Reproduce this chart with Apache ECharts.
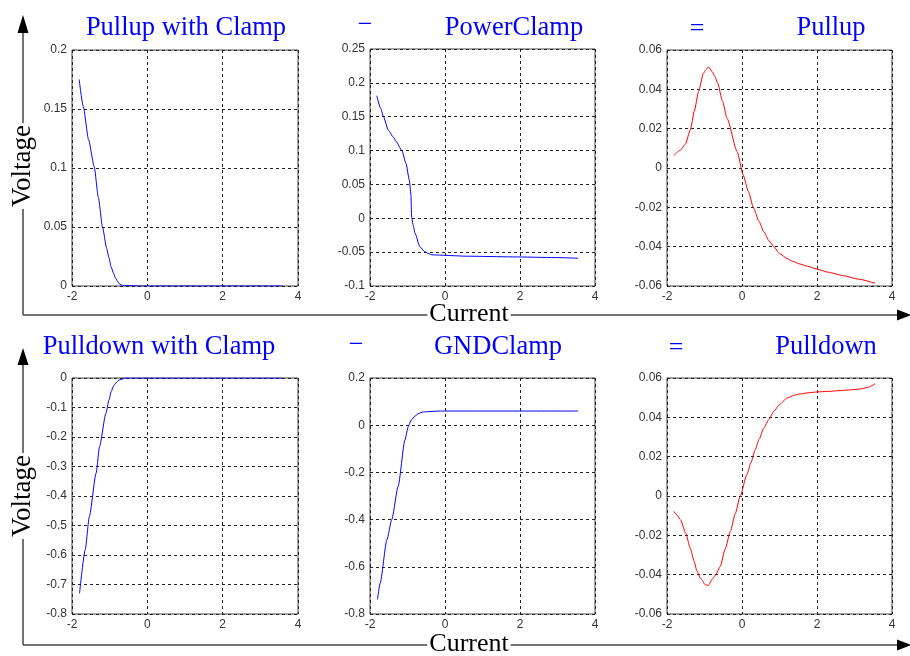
<!DOCTYPE html>
<html>
<head>
<meta charset="utf-8">
<script src="https://cdn.jsdelivr.net/npm/echarts@6/dist/echarts.min.js"></script>
<style>
  html, body { margin: 0; padding: 0; background: #fff; }
  #mycontainer { width: 910px; height: 656px; }
</style>
</head>
<body>
<div id="mycontainer"></div>
<script>
// curve data (x = current, y = voltage)
var pullupClampX = [-1.81, -1.7, -1.56, -1.41, -1.3, -1.19, -1.08, -1.02, -0.96, -0.9, -0.85, -0.8, -0.75, -0.7, -0.65, -0.2, 3.6];
var pullupClampY = [0.175, 0.152, 0.124, 0.101, 0.075, 0.05, 0.032, 0.024, 0.016, 0.011, 0.007, 0.0045, 0.002, 0.001, 0.0005, 0.0, 0.0];

var powerClampX = [-1.82, -1.72, -1.64, -1.51, -1.38, -1.3, -1.15, -1.04, -0.95, -0.91, -0.89, -0.85, -0.8, -0.67, -0.55, -0.44, -0.35, 0.6, 1.8, 2.95, 3.55];
var powerClampY = [0.181, 0.163, 0.15, 0.13, 0.12, 0.113, 0.1, 0.081, 0.056, 0.036, 0.002, -0.01, -0.022, -0.042, -0.049, -0.052, -0.054, -0.056, -0.057, -0.058, -0.059];

var pullupX = [-1.82, -1.65, -1.51, -1.38, -1.27, -1.16, -1.03, -0.96, -0.91, -0.86, -0.8, -0.72, -0.65, -0.52, -0.4, -0.13, 0.03, 0.17, 0.31, 0.45, 0.58, 0.72, 0.85, 1.0, 1.2, 1.35, 1.56, 1.75, 2.0, 2.3, 2.71, 3.1, 3.55];
var pullupY = [0.0063, 0.009, 0.0121, 0.0193, 0.029, 0.0388, 0.0481, 0.05, 0.0512, 0.0508, 0.049, 0.0465, 0.0431, 0.034, 0.0253, 0.0084, -0.0035, -0.012, -0.0205, -0.027, -0.0324, -0.037, -0.04, -0.0435, -0.046, -0.0475, -0.0489, -0.05, -0.0514, -0.053, -0.0548, -0.0565, -0.0586];

var pulldownClampX = [-1.8, -1.65, -1.54, -1.36, -1.27, -1.1, -1.02, -0.96, -0.9, -0.83, -0.75, -0.65, -0.6, 3.6];
var pulldownClampY = [-0.73, -0.583, -0.47, -0.323, -0.233, -0.12, -0.075, -0.046, -0.028, -0.016, -0.007, -0.003, 0, 0];

var gndClampX = [-1.8, -1.73, -1.55, -1.42, -1.25, -1.07, -0.98, -0.9, -0.8, -0.7, -0.58, -0.4, -0.13, 3.55];
var gndClampY = [-0.738, -0.67, -0.486, -0.4, -0.26, -0.063, -0.006, 0.022, 0.039, 0.05, 0.056, 0.058, 0.06, 0.06];

var pulldownX = [-1.82, -1.73, -1.64, -1.5, -1.38, -1.28, -1.2, -1.1, -0.98, -0.9, -0.78, -0.7, -0.58, -0.45, -0.31, -0.18, -0.05, 0.13, 0.24, 0.35, 0.46, 0.58, 0.72, 0.85, 1.0, 1.2, 1.38, 1.56, 1.78, 2.0, 2.3, 2.62, 2.9, 3.15, 3.35, 3.55];
var pulldownY = [-0.0078, -0.0098, -0.0121, -0.019, -0.0265, -0.033, -0.0383, -0.042, -0.0451, -0.0455, -0.042, -0.04, -0.0358, -0.027, -0.018, -0.009, -0.0002, 0.0109, 0.017, 0.0235, 0.029, 0.0346, 0.039, 0.0431, 0.0465, 0.0498, 0.0512, 0.0519, 0.0525, 0.0529, 0.0532, 0.0536, 0.054, 0.0544, 0.0552, 0.0571];

// y axis ranges [min, max, interval] per panel
var yRanges = [
    [0, 0.2, 0.05],
    [-0.1, 0.25, 0.05],
    [-0.06, 0.06, 0.02],
    [-0.8, 0, 0.1],
    [-0.8, 0.2, 0.2],
    [-0.06, 0.06, 0.02]
];
var xRange = [-2, 4, 2];

function zip(xs, ys) {
    return xs.map(function (x, i) { return [x, ys[i]]; });
}

var dom = document.getElementById('mycontainer');
var chart = echarts.init(dom, null, { renderer: 'canvas' });

var grids = [
    { left: 72, top: 50, width: 226, height: 236 },
    { left: 370, top: 49, width: 225, height: 237 },
    { left: 667, top: 50, width: 225, height: 236 },
    { left: 72, top: 378, width: 226, height: 236 },
    { left: 370, top: 378, width: 225, height: 236 },
    { left: 667, top: 378, width: 225, height: 236 }
];
grids.forEach(function (g) {
    g.show = true;
    g.borderColor = '#444';
    g.borderWidth = 1;
    g.backgroundColor = '#fff';
});

var gridLine = { show: true, lineStyle: { color: '#222', type: [3, 3], width: 1 } };
var labelStyle = { color: '#333', fontFamily: 'Liberation Sans, Arial, sans-serif', fontSize: 12 };

var xAxes = [], yAxes = [];
for (var i = 0; i < 6; i++) {
    xAxes.push({
        type: 'value', gridIndex: i,
        min: xRange[0], max: xRange[1], interval: xRange[2],
        axisLine: { show: false, onZero: false },
        axisTick: { show: false },
        splitLine: gridLine,
        axisLabel: Object.assign({ margin: 5 }, labelStyle)
    });
    yAxes.push({
        type: 'value', gridIndex: i,
        min: yRanges[i][0], max: yRanges[i][1], interval: yRanges[i][2],
        axisLine: { show: false, onZero: false },
        axisTick: { show: false },
        splitLine: gridLine,
        axisLabel: Object.assign({ margin: 5 }, labelStyle)
    });
}

var curves = [
    [pullupClampX, pullupClampY, '#0000ff'],
    [powerClampX, powerClampY, '#0000ff'],
    [pullupX, pullupY, '#ff0000'],
    [pulldownClampX, pulldownClampY, '#0000ff'],
    [gndClampX, gndClampY, '#0000ff'],
    [pulldownX, pulldownY, '#ff0000']
];
var series = curves.map(function (c, i) {
    return {
        type: 'line', xAxisIndex: i, yAxisIndex: i,
        data: zip(c[0], c[1]),
        showSymbol: false, smooth: 0.2, smoothMonotone: 'x', animation: false,
        lineStyle: { color: c[2], width: 1 }
    };
});

var serif = 'Liberation Serif, Times New Roman, serif';
function label(x, y, txt, color, size, extra) {
    var el = {
        type: 'text', x: x, y: y, z: 100,
        style: {
            text: txt, fill: color, font: size + 'px ' + serif,
            align: 'center', verticalAlign: 'middle',
            textAlign: 'center', textVerticalAlign: 'middle'
        }
    };
    if (extra) {
        for (var k in extra) el.style[k] = extra[k];
    }
    return el;
}
function arrowUp(x, tipY, baseY, bottomY) {
    return [
        { type: 'line', z: 90, shape: { x1: x, y1: baseY, x2: x, y2: bottomY }, style: { stroke: '#444', lineWidth: 1.5 } },
        { type: 'polygon', z: 90, shape: { points: [[x, tipY], [x - 5.5, baseY], [x + 5.5, baseY]] }, style: { fill: '#000' } }
    ];
}
function arrowRight(y, x0, baseX, tipX) {
    return [
        { type: 'line', z: 90, shape: { x1: x0, y1: y, x2: baseX, y2: y }, style: { stroke: '#444', lineWidth: 1.5 } },
        { type: 'polygon', z: 90, shape: { points: [[tipX, y], [baseX, y - 5.5], [baseX, y + 5.5]] }, style: { fill: '#000' } }
    ];
}
var bg = { backgroundColor: '#fff', padding: [0, 2] };
var voltTop = label(0, 0, 'Voltage', '#000', 27, bg);
voltTop.x = 23; voltTop.y = 166; voltTop.rotation = Math.PI / 2;
var voltBot = label(0, 0, 'Voltage', '#000', 27, bg);
voltBot.x = 23; voltBot.y = 496; voltBot.rotation = Math.PI / 2;

var blue = '#0000ff';
var graphics = []
    .concat(arrowUp(23, 15, 33, 315), arrowRight(315, 23, 897, 911))
    .concat(arrowUp(23, 348, 365, 645), arrowRight(645, 23, 897, 911))
    .concat([
        voltTop, voltBot,
        label(469, 314, 'Current', '#000', 26, bg),
        label(469, 644, 'Current', '#000', 26, bg),
        label(186, 28, 'Pullup with Clamp', blue, 26.5),
        label(365, 25, '\u2212', blue, 26),
        label(514, 28, 'PowerClamp', blue, 26.5),
        label(697, 29, '=', blue, 26),
        label(831, 28, 'Pullup', blue, 26.5),
        label(159, 347, 'Pulldown with Clamp', blue, 26.5),
        label(356, 345, '\u2212', blue, 26),
        label(498, 347, 'GNDClamp', blue, 26.5),
        label(676, 348, '=', blue, 26),
        label(826, 347, 'Pulldown', blue, 26.5)
    ]);

var option = {
    backgroundColor: '#fff',
    animation: false,
    grid: grids,
    xAxis: xAxes,
    yAxis: yAxes,
    series: series,
    graphic: graphics
};

chart.setOption(option);
</script>
</body>
</html>
